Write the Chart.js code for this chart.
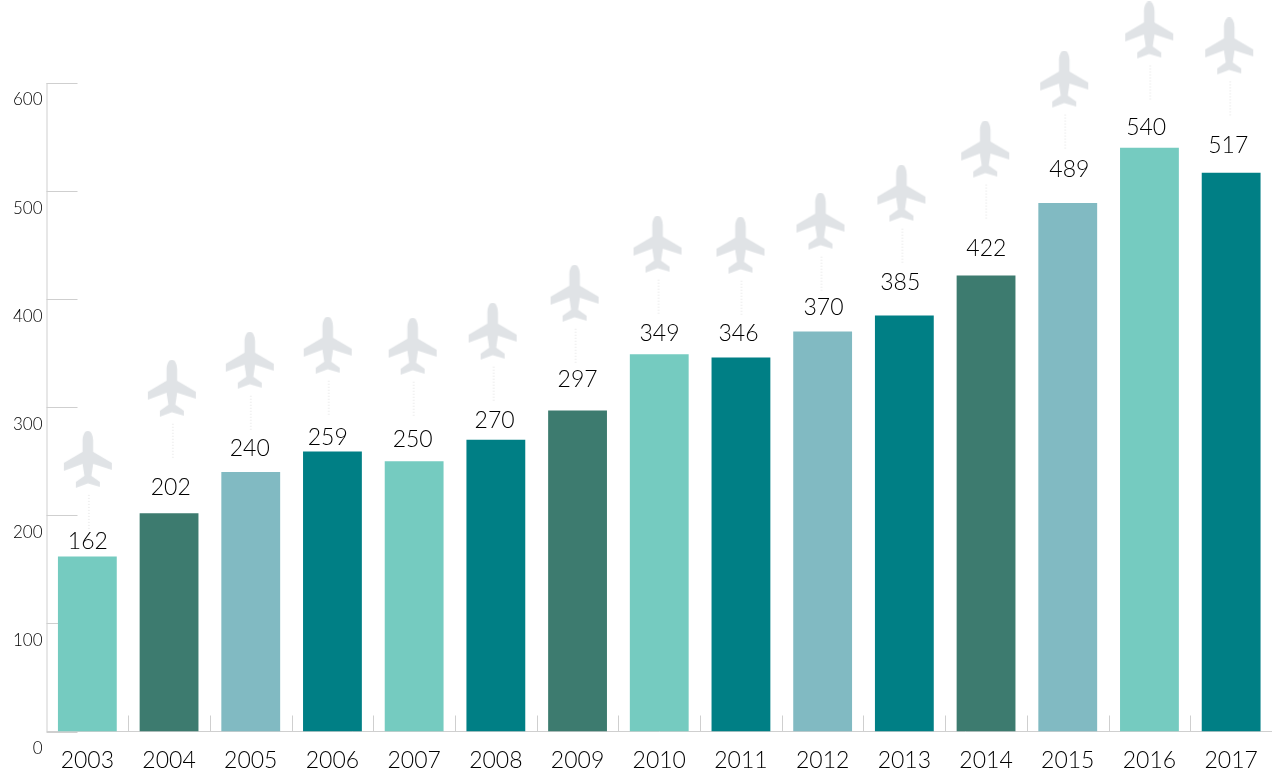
<!DOCTYPE html>
<html><head><meta charset="utf-8">
<style>html,body{margin:0;padding:0;background:#fff;overflow:hidden}canvas{display:block}</style>
<script src="https://cdn.jsdelivr.net/npm/chart.js@4"></script>
</head><body>
<div style="width:1277px;height:779px"><canvas id="c" width="1277" height="779"></canvas></div>
<script>
const years = ['2003','2004','2005','2006','2007','2008','2009','2010','2011','2012','2013','2014','2015','2016','2017'];
const flights = [162,202,240,259,250,270,297,349,346,370,385,422,489,540,517];
const barColors = ['#75CBC0','#3D7B6F','#81BAC2','#007F85','#75CBC0','#007F85','#3D7B6F','#75CBC0','#007F85','#81BAC2','#007F85','#3D7B6F','#81BAC2','#75CBC0','#007F85'];
const planeSlot = [0.506,1.534,2.488,3.442,4.482,5.461,6.464,7.479,8.494,9.473,10.464,11.49,12.457,13.497,14.476];
const planeLevel = [231.9,297.7,323.6,337.5,336.6,350.5,385.6,431,430,452.3,478.2,519,583.8,629.2,614.4];
const labelSlot = [0.506,1.521,2.488,3.442,4.482,5.485,6.5,7.503,8.47,9.51,10.45,11.503,12.52,13.46,14.464];
const labelLevel = [176,226,262,272.3,270.5,288,326,368.5,368.5,391.8,415,447.2,519.5,558.4,541.8];
const FONT = 'Lato, sans-serif';
const GREY = '#cfcfcf';

function makePlane(){
  const c = document.createElement('canvas'); c.width = 50; c.height = 100;
  const g = c.getContext('2d');
  const cx = 25;
  g.fillStyle = '#E0E3E6';
  g.beginPath();
  g.moveTo(cx,0);
  g.bezierCurveTo(cx+3.5,0,cx+5.3,5,cx+5.3,10);
  g.lineTo(cx+5.3,21);
  g.lineTo(cx+24,32); g.lineTo(cx+24,39); g.lineTo(cx+5.3,33);
  g.lineTo(cx+3.5,45);
  g.lineTo(cx+12,51); g.lineTo(cx+12,56); g.lineTo(cx,52.5);
  g.lineTo(cx-12,57); g.lineTo(cx-12,51); g.lineTo(cx-3.5,45);
  g.lineTo(cx-5.3,33);
  g.lineTo(cx-24,40); g.lineTo(cx-24,32); g.lineTo(cx-5.3,21);
  g.lineTo(cx-5.3,10);
  g.bezierCurveTo(cx-5.3,5,cx-3.5,0,cx,0);
  g.closePath(); g.fill();
  g.fillStyle = '#DDDDDD';
  for(let y=64;y<99;y+=3){ g.fillRect(cx+0.5,y,1,1); }
  return c;
}
const planeSprite = makePlane();

const frame = {
  id:'frame',
  beforeDatasetsDraw(chart){
    const {ctx, scales:{x,y}} = chart;
    ctx.save(); ctx.strokeStyle = GREY; ctx.lineWidth = 1;
    const L = x.left, B = y.bottom;
    ctx.beginPath();
    y.ticks.forEach(t=>{ const p = Math.round(y.getPixelForValue(t.value))+0.5; ctx.moveTo(L,p); ctx.lineTo(L+31,p); });
    const half = (x.getPixelForTick(1)-x.getPixelForTick(0))/2;
    years.forEach((_,i)=>{ if(i===0) return; const p = Math.round(x.getPixelForTick(i)-half)+0.5; ctx.moveTo(p,B-16); ctx.lineTo(p,B); });
    ctx.moveTo(L+0.5,y.top); ctx.lineTo(L+0.5,B);
    ctx.moveTo(L,B); ctx.lineTo(x.right,B);
    ctx.stroke(); ctx.restore();
  },
  afterDatasetsDraw(chart){
    const {ctx} = chart;
    const meta = chart.getDatasetMeta(2);
    ctx.save(); ctx.fillStyle = '#000'; ctx.font = '300 23px '+FONT; ctx.textAlign='center'; ctx.textBaseline='middle';
    meta.data.forEach((el,i)=>ctx.fillText(String(flights[i]),el.x,el.y));
    ctx.restore();
  }
};

new Chart(document.getElementById('c'),{
  data:{
    labels:years,
    datasets:[
      {type:'bar',data:flights,backgroundColor:barColors,barPercentage:0.72,categoryPercentage:1,grouped:false,xAxisID:'x',yAxisID:'y',order:3},
      {type:'scatter',data:planeSlot.map((v,i)=>({x:v,y:planeLevel[i]})),xAxisID:'x2',yAxisID:'y',pointStyle:planeSprite,pointRadius:50,clip:false,order:2},
      {type:'scatter',data:labelSlot.map((v,i)=>({x:v,y:labelLevel[i]})),xAxisID:'x2',yAxisID:'y',pointRadius:0,clip:false,order:1}
    ]
  },
  plugins:[frame],
  options:{
    responsive:false,animation:false,
    layout:{autoPadding:false,padding:{top:83,right:5,left:0,bottom:0}},
    plugins:{legend:{display:false},tooltip:{enabled:false}},
    scales:{
      x:{type:'category',offset:true,grid:{display:false},border:{display:false},
        ticks:{color:'#000',font:{family:FONT,size:23,weight:'300'},padding:7,maxRotation:0,autoSkip:false},
        afterFit(s){s.height=47.5;}},
      x2:{type:'linear',display:false,min:0,max:15},
      y:{type:'linear',min:0,max:600,grid:{display:false,drawTicks:false},border:{display:false},
        ticks:{stepSize:100,color:'#000',font:{family:FONT,size:17,weight:'300'},padding:4,labelOffset:17,autoSkip:false},
        afterFit(s){s.width=46.5;}}
    }
  }
});
</script>
</body></html>
